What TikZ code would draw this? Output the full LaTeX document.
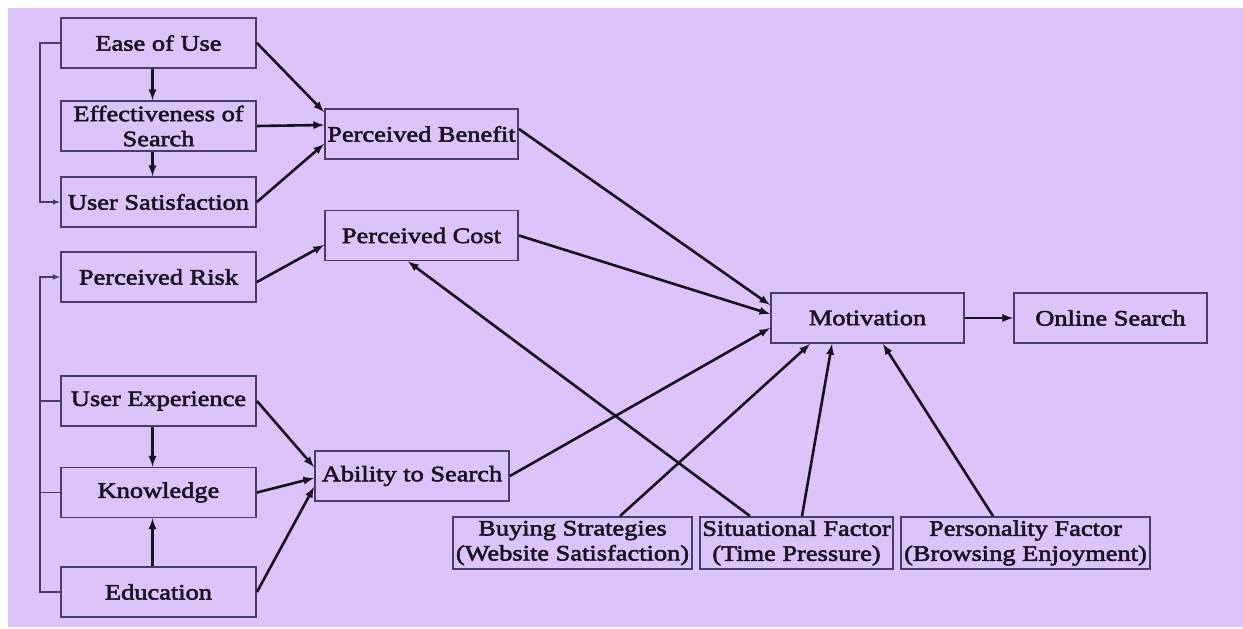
\documentclass[tikz,border=0pt]{standalone}
\usepackage{fontspec}
\setmainfont{Liberation Serif}[FakeStretch=1.2,FakeBold=2.5]
\usepackage{xcolor}
\usetikzlibrary{arrows,positioning,calc}
\definecolor{lilac}{RGB}{220,195,250}
\definecolor{boxline}{RGB}{72,60,104}
\definecolor{ink}{RGB}{22,18,32}
\tikzset{every node/.append style={font=\fontsize{22}{25}\selectfont},
         factor/.style={draw=boxline, line width=1.9pt, minimum width=195pt,
                        minimum height=50pt, inner sep=0pt, align=center, text=ink},
         link/.style={line width=2.6pt, ink, -latex},
         bus/.style={line width=1.5pt, boxline}
        }

\begin{document}
\begin{tikzpicture}[x=1pt, y=-1pt]
\useasboundingbox (0,0) rectangle (1243,629);
\fill[lilac] (8,8) rectangle (1243,627);

%Left column
\node[factor] (ease) at (158.5,43) {Ease of Use};
\node[factor] (eff) at (158.5,126) {Effectiveness of\\Search};
\node[factor] (usat) at (158.5,202) {User Satisfaction};
\node[factor] (risk) at (158.5,277) {Perceived Risk};
\node[factor] (uexp) at (158.5,401) {User Experience};
\node[factor] (know) at (158.5,492.5) {Knowledge};
\node[factor] (edu) at (158.5,592) {Education};

%Middle column
\node[factor, minimum width=193pt] (benefit) at (421.5,134) {Perceived Benefit};
\node[factor, minimum width=193pt] (cost) at (421.5,235.5) {Perceived Cost};
\node[factor, minimum width=194pt] (ability) at (412,476) {Ability to Search};

%Right side
\node[factor, minimum width=193pt] (motiv) at (867.5,318) {Motivation};
\node[factor, minimum width=193pt] (online) at (1110.5,318) {Online Search};
\node[factor, minimum width=239pt, minimum height=52pt] (buying) at (572.5,543) {Buying Strategies\\(Website Satisfaction)};
\node[factor, minimum width=193pt, minimum height=52pt] (situ) at (796.5,543) {Situational Factor\\(Time Pressure)};
\node[factor, minimum width=249pt, minimum height=52pt] (person) at (1025.5,543) {Personality Factor\\(Browsing Enjoyment)};

%Feedback lines on the left
\draw[bus, -latex] (ease.west) -- ++(-20,0) |- (usat.west);
\draw[bus, -latex] (edu.west) -- ++(-20,0) |- (risk.west);
\draw[bus] (uexp.west) -- ++(-20,0);
\draw[bus] (know.west) -- ++(-20,0);

\draw[link] ([xshift=-6pt]ease.south) -- ([xshift=-6pt]eff.north);
\draw[link] ([xshift=-6pt]eff.south) -- ([xshift=-6pt]usat.north);
\draw[link] ([xshift=-6pt]uexp.south) -- ([xshift=-6pt]know.north);
\draw[link] ([xshift=-6pt]edu.north) -- ([xshift=-6pt]know.south);

\draw[link] (ease.east) -- ([yshift=-4pt]benefit.north west);
\draw[link] (eff.east) -- ([yshift=9pt]benefit.west);
\draw[link] (usat.east) -- ([yshift=-10pt]benefit.west);
\draw[link] ([yshift=-5pt]risk.east) -- ([yshift=-9.5pt]cost.west);
\draw[link] (uexp.east) -- ([yshift=9pt]ability.west);
\draw[link] (know.east) -- ([yshift=-2pt]ability.west);
\draw[link] (edu.east) -- ([yshift=-11pt]ability.west);

\draw[link] ([yshift=5pt]benefit.east) -- ([yshift=13pt]motiv.west);
\draw[link] (cost.east) -- ([yshift=4pt]motiv.west);
\draw[link] (ability.east) -- ([yshift=-10pt]motiv.west);
\draw[link] (motiv) -- (online);

\draw[link] ([xshift=47.5pt]buying.north) -- ([xshift=-57.5pt]motiv.south);
\draw[link] ([xshift=5.5pt]situ.north) -- ([xshift=-35.5pt]motiv.south);
\draw[link] ([xshift=-46.5pt]situ.north) -- ([xshift=-13.5pt]cost.south);
\draw[link] ([xshift=-32.5pt]person.north) -- ([xshift=15.5pt]motiv.south);
\end{tikzpicture}
\end{document}
